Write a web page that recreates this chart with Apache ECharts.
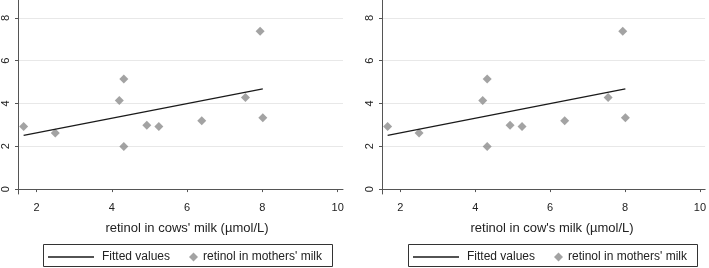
<!DOCTYPE html>
<html>
<head>
<meta charset="utf-8">
<script src="https://cdn.jsdelivr.net/npm/echarts@6/dist/echarts.min.js"></script>
<style>
  html, body { margin: 0; padding: 0; background: #fff; }
  #chart { width: 709px; height: 268px; }
</style>
</head>
<body>
<div id="chart"></div>
<script>
// retinol in cows' milk (x) vs retinol in mothers' milk (y), umol/L
var cowsMilk    = [1.66, 2.50, 4.20, 4.32, 4.32, 4.93, 5.25, 6.39, 7.55, 7.94, 8.01];
var mothersMilk = [2.93, 2.62, 4.14, 5.15, 1.99, 2.98, 2.92, 3.19, 4.28, 7.38, 3.33];
// fitted line end points
var fitX = [1.66, 8.01];
var fitY = [2.51, 4.68];
var xTicks = [2, 4, 6, 8, 10];
var yTicks = [0, 2, 4, 6, 8];
var xTitles = ["retinol in cows' milk (\u00b5mol/L)", "retinol in cow's milk (\u00b5mol/L)"];
var fitName = 'Fitted values';
var dotName = "retinol in mothers' milk";

var font = 'Liberation Sans, Arial, sans-serif';
var txt = '#222';
var axisCol = '#555';

var scatterData = cowsMilk.map(function (x, i) { return [x, mothersMilk[i]]; });
var fitData = fitX.map(function (x, i) { return [x, fitY[i]]; });

var panelLeft = [16, 382];
var legendLeft = [43, 408];
var titlePad = [13, 17];

var option = {
  animation: false,
  backgroundColor: '#fff',
  grid: [], xAxis: [], yAxis: [], series: [], legend: [], graphic: []
};

for (var p = 0; p < 2; p++) {
  option.grid.push({ left: panelLeft[p], top: -1, width: 327, height: 195 });
  option.xAxis.push({
    type: 'value', gridIndex: p, min: 1.51, max: 10.14,
    name: xTitles[p], nameLocation: 'middle', nameGap: 28,
    nameTextStyle: { fontFamily: font, fontSize: 13, color: txt, padding: [0, 0, 0, titlePad[p]] },
    axisLine: { show: true, lineStyle: { color: axisCol, width: 1 } },
    axisTick: { show: true, length: 3, customValues: xTicks, lineStyle: { color: axisCol } },
    axisLabel: { customValues: xTicks, margin: 8, fontFamily: font, fontSize: 11, color: txt },
    splitLine: { show: false }
  });
  option.yAxis.push({
    type: 'value', gridIndex: p, min: -0.23, max: 8.84,
    axisLine: { show: true, lineStyle: { color: axisCol, width: 1 } },
    axisTick: { show: true, length: 3, customValues: yTicks, lineStyle: { color: axisCol } },
    axisLabel: { customValues: yTicks, rotate: 90, margin: 7, fontFamily: font, fontSize: 11, color: txt },
    splitLine: { show: true, lineStyle: { color: '#e8e8e8', width: 1 } }
  });
  option.series.push({
    name: fitName, type: 'line', xAxisIndex: p, yAxisIndex: p,
    data: fitData, symbol: 'none', silent: true,
    lineStyle: { color: '#1a1a1a', width: 1.3 }, itemStyle: { color: '#1a1a1a' }
  });
  option.series.push({
    name: dotName, type: 'scatter', xAxisIndex: p, yAxisIndex: p,
    data: scatterData, symbol: 'diamond', symbolSize: 9,
    itemStyle: { color: '#8c8c8c' }
  });
  option.legend.push({
    data: [{ name: fitName, icon: 'path://M0 0H46V1.3H0Z' }],
    left: legendLeft[p] + 5, top: 251, padding: 0,
    itemWidth: 46, itemHeight: 14, selectedMode: false,
    textStyle: { fontFamily: font, fontSize: 12, color: txt, padding: [0, 0, 0, 3] }
  });
  option.legend.push({
    data: [{ name: dotName, icon: 'diamond' }], left: legendLeft[p] + 146, top: 251, padding: 0,
    itemWidth: 9, itemHeight: 9, selectedMode: false,
    textStyle: { fontFamily: font, fontSize: 12, color: txt }
  });
  option.graphic.push({
    type: 'rect', silent: true, z: 100,
    shape: { x: legendLeft[p] + 0.5, y: 244.5, width: 289, height: 22 },
    style: { fill: 'none', stroke: '#333', lineWidth: 1 }
  });
}

var chart = echarts.init(document.getElementById('chart'));
chart.setOption(option);
window.addEventListener('resize', function () { chart.resize(); });
</script>
</body>
</html>
